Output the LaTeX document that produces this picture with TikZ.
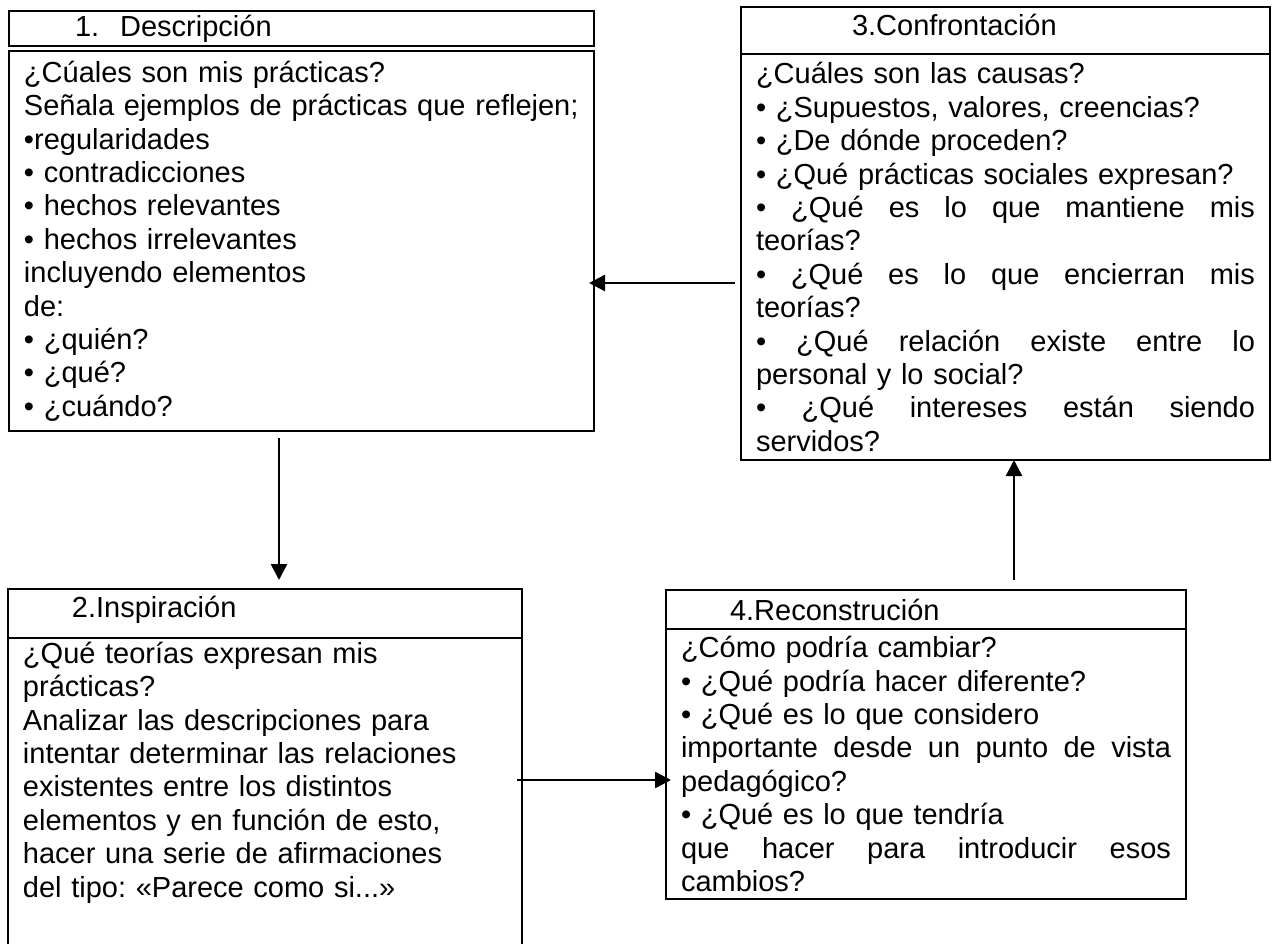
\documentclass[tikz,border=0pt]{standalone}
\usepackage{fontspec}
\setmainfont{Liberation Sans}
\usetikzlibrary{arrows.meta,positioning}

\tikzset{
  cab/.style={draw, line width=1.2pt, outer sep=0pt, anchor=north west, inner xsep=0pt, inner ysep=0pt, align=left},
  cuerpo/.style={draw, line width=1.2pt, outer sep=0pt, anchor=north west, inner xsep=7.5pt, inner ysep=2pt, align=left},
  flecha/.style={line width=1.2pt, -{Triangle[length=8pt,width=8pt]}},
}
% linea justificada a un ancho dado
\newcommand{\jline}[2]{\makebox[#1][s]{\spaceskip=0.278em plus 1fil\relax #2}}
\newcommand{\subir}[2]{\raisebox{#1}[\height][\depth]{#2}}
\frenchspacing

\begin{document}
\begin{tikzpicture}[x=0.5pt, y=-0.5pt,
    every node/.style={font=\fontsize{14.5}{16.7}\selectfont}]
  \useasboundingbox (0,0) rectangle (1275,943);
  \clip (0,0) rectangle (1275,943);

  % 1. Descripcion
  \node[cab, text width=292.5pt, minimum height=17.5pt] (t1) at (9,11)
    {\hspace*{33pt}1.\hspace{10.5pt}Descripción};
  \node[cuerpo, text width=277.5pt, minimum height=190pt] (c1) at ([yshift=-2.5pt]t1.south west)
    {¿Cúales son mis prácticas?\\
     Señala ejemplos de prácticas que reflejen;\\
     •regularidades\\
     • contradicciones\\
     • hechos relevantes\\
     • hechos irrelevantes\\
     incluyendo elementos\\
     de:\\
     • ¿quién?\\
     • ¿qué?\\
     • ¿cuándo?};

  % 3. Confrontacion
  \node[cab, text width=264.5pt, minimum height=23.5pt] (t3) at (741,7)
    {\hspace*{55.5pt}\subir{2.75pt}{3.Confrontación}};
  \node[cuerpo, text width=249.5pt, minimum height=203pt] (c3) at (t3.south west)
    {¿Cuáles son las causas?\\
     • ¿Supuestos, valores, creencias?\\
     • ¿De dónde proceden?\\
     • ¿Qué prácticas sociales expresan?\\
     \jline{249.5pt}{• ¿Qué es lo que mantiene mis}\\
     teorías?\\
     \jline{249.5pt}{• ¿Qué es lo que encierran mis}\\
     teorías?\\
     \jline{249.5pt}{• ¿Qué relación existe entre lo}\\
     personal y lo social?\\
     \jline{249.5pt}{• ¿Qué intereses están siendo}\\
     servidos?};

  % 2. Inspiracion
  \node[cab, text width=257pt, minimum height=24.5pt] (t2) at (8,589)
    {\hspace*{32pt}\subir{1.75pt}{2.Inspiración}};
  \node[cuerpo, text width=242pt] (c2) at (t2.south west)
    {¿Qué teorías expresan mis\\
     prácticas?\\
     Analizar las descripciones para\\
     intentar determinar las relaciones\\
     existentes entre los distintos\\
     elementos y en función de esto,\\
     hacer una serie de afirmaciones\\
     del tipo: «Parece como si...»\\[40pt]
     \mbox{}};

  % 4. Reconstrucion
  \node[cab, text width=260pt, minimum height=19.5pt] (t4) at (666,590)
    {\hspace*{32pt}4.Reconstrución};
  \node[cuerpo, text width=245pt, minimum height=135pt] (c4) at (t4.south west)
    {¿Cómo podría cambiar?\\
     • ¿Qué podría hacer diferente?\\
     • ¿Qué es lo que considero\\
     \jline{245pt}{importante desde un punto de vista}\\
     pedagógico?\\
     • ¿Qué es lo que tendría\\
     \jline{245pt}{que hacer para introducir esos}\\
     cambios?};

  % flechas
  \draw[flecha, shorten <=3pt, shorten >=-2.5pt] (c3.west |- 0,283) -- (c1.east |- 0,283);
  \draw[flecha, shorten <=3.5pt, shorten >=4.5pt] (c1.south -| 279,0) -- (t2.north -| 279,0);
  \draw[flecha, shorten <=-2.5pt, shorten >=-2.5pt] (c2.east |- 0,780) -- (c4.west |- 0,780);
  \draw[flecha, shorten <=5pt] (t4.north -| 1014,0) -- (c3.south -| 1014,0);
\end{tikzpicture}
\end{document}
